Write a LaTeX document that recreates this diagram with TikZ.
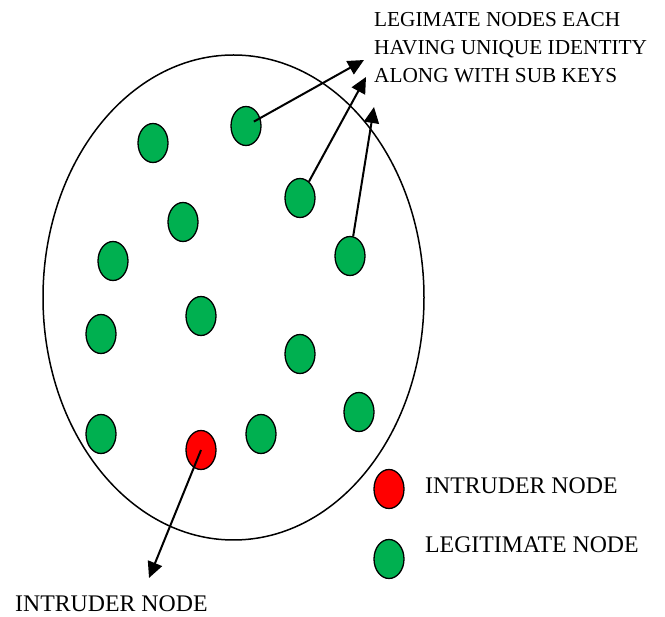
\documentclass[tikz,border=0pt]{standalone}
\usepackage{fontspec}
\setmainfont{Liberation Serif}
\usetikzlibrary{arrows.meta,shapes.geometric}
\definecolor{nodegreen}{RGB}{0,176,80}

\begin{document}
\begin{tikzpicture}[
  x=1pt, y=-1pt,
  gn/.style={draw, ellipse, line width=1.3pt, minimum width=30pt, minimum height=39pt,
             inner sep=0pt, fill=nodegreen},
  rn/.style={gn, fill=red},
  lbl/.style={font=\fontsize{23.8}{28}\selectfont, inner sep=0pt, anchor=base west},
  ar/.style={-{Triangle[length=16pt,width=15pt]}, line width=2pt}
]
\useasboundingbox (0,0) rectangle (665,617);
\node[draw, ellipse, line width=1.5pt, minimum width=381pt, minimum height=485pt] (net) at (233.5,297.5) {};

% sensor field
\foreach \n/\x/\y in {1/153/143, 2/246/126, 3/300/198, 4/183/222, 5/113/261, 6/350/256,
                      7/101/334, 8/201/316, 9/300/354, 10/359/412, 11/101/434, 12/261/434}
  \node[gn] (n\n) at (\x,\y) {};
\node[rn] (n13) at (201,450) {};

% legend
\node[rn] (keyr) at (389,489) {};
\node[gn] (keyg) at (389,559) {};
\node[lbl] (keyrt) at (425,494) {INTRUDER NODE};
\node[lbl] (keygt) at (425,553) {LEGITIMATE NODE};

\node[font=\fontsize{21.3}{28}\selectfont, align=left, anchor=north west, inner sep=0pt] (legit) at (374,12)
  {LEGIMATE NODES EACH\\HAVING UNIQUE IDENTITY\\ALONG WITH SUB KEYS};
\node[lbl] (intr) at (15,612) {INTRUDER NODE};

\coordinate (t1) at (364,60);
\coordinate (t2) at (366,77);
\coordinate (t3) at (374,107);
\coordinate (t4) at (149,578);
\draw[ar, shorten <=9pt] (n2.center) -- (t1);
\draw[ar] (n3) -- (t2);
\draw[ar] (n6) -- (t3);
\draw[ar] (n13.center) -- (t4);
\end{tikzpicture}
\end{document}
